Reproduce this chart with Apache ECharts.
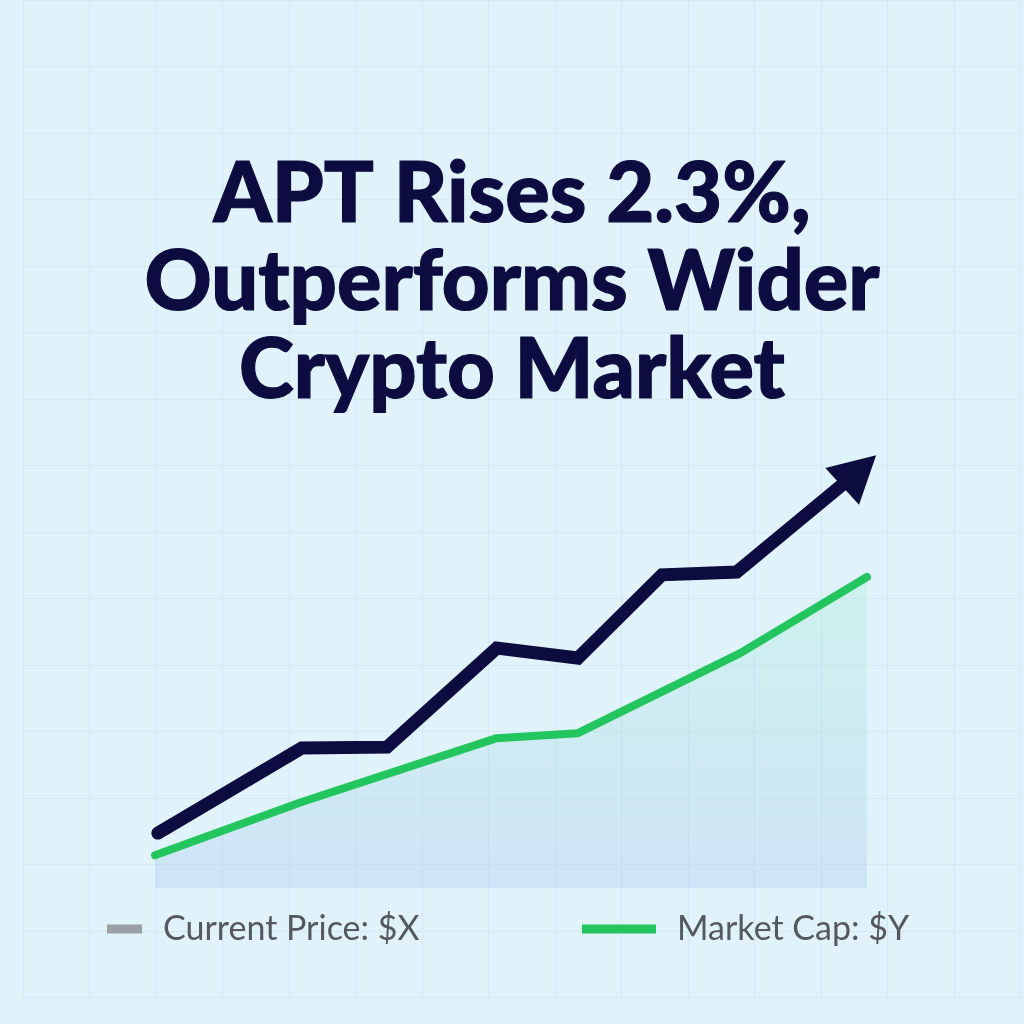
<!DOCTYPE html>
<html>
<head>
<meta charset="utf-8">
<script src="https://cdn.jsdelivr.net/npm/echarts@6/dist/echarts.min.js"></script>
<style>
  html, body { margin: 0; padding: 0; background: #e0f3fa; }
  #chart { width: 1024px; height: 1024px; }
</style>
</head>
<body>
<div id="chart"></div>
<script>
// (x: 0-100 along the plot, y: 0-100 up the plot)
const priceX = [0.4, 20.6, 32.6, 48.0, 59.4, 71.2, 81.7, 98.9];
const priceY = [12.2, 31.1, 31.3, 53.3, 51.1, 69.6, 70.2, 92.7];
const capX = [0, 20.6, 48.0, 59.4, 82.2, 100];
const capY = [7.3, 19.1, 33.3, 34.4, 52.2, 69.1];

const titleLines = ['APT Rises 2.3%,', 'Outperforms Wider', 'Crypto Market'];
const priceName = 'Current Price: $X';
const capName = 'Market Cap: $Y';

const navy = '#0c0c40';
const green = '#22c55e';

const chart = echarts.init(document.getElementById('chart'));

let priceData = priceX.map((x, i) => {
  if (i === priceX.length - 1) {
    return {value: [x, priceY[i]], symbol: 'triangle', symbolSize: [50, 46], symbolRotate: -47.6};
  }
  return {value: [x, priceY[i]], symbol: 'none'};
});
let capData = capX.map((x, i) => [x, capY[i]]);

let option = {
  backgroundColor: '#e0f3fa',
  animation: false,
  title: {
    text: titleLines.join('\n'),
    left: 'center',
    top: 146,
    textStyle: {
      fontFamily: 'Lato',
      fontWeight: 900,
      fontSize: 83,
      lineHeight: 88,
      color: navy,
      textBorderColor: navy,
      textBorderWidth: 1.2
    }
  },
  legend: [
    {
      left: 102,
      top: 907,
      itemWidth: 35,
      itemHeight: 9,
      data: [{name: priceName, icon: 'rect', itemStyle: {color: '#9ba0a7'}, lineStyle: {color: '#9ba0a7', width: 9, cap: 'butt'}}],
      textStyle: {fontFamily: 'Lato', fontSize: 34, color: '#55595f', padding: [0, 0, 0, 16]}
    },
    {
      left: 577,
      top: 907,
      itemWidth: 74,
      itemHeight: 9,
      data: [{name: capName, icon: 'rect', itemStyle: {color: green}, lineStyle: {color: green, width: 9, cap: 'butt'}}],
      textStyle: {fontFamily: 'Lato', fontSize: 34, color: '#55595f', padding: [0, 0, 0, 16]}
    }
  ],
  grid: [
    {left: 155, right: 157, top: 438, bottom: 136},
    {left: 23, top: 0, width: 997.5, height: 997.5}
  ],
  xAxis: [
    {type: 'value', min: 0, max: 100, show: false},
    {
      type: 'value', gridIndex: 1, min: 0, max: 15, interval: 1,
      axisLine: {show: false}, axisTick: {show: false}, axisLabel: {show: false},
      splitLine: {show: true, lineStyle: {color: '#d4e9f2', width: 1.2}}
    }
  ],
  yAxis: [
    {type: 'value', min: 0, max: 100, show: false},
    {
      type: 'value', gridIndex: 1, min: 0, max: 15, interval: 1,
      axisLine: {show: false}, axisTick: {show: false}, axisLabel: {show: false},
      splitLine: {show: true, lineStyle: {color: '#d4e9f2', width: 1.2}}
    }
  ],
  series: [
    {
      name: capName,
      type: 'line',
      data: capData,
      symbol: 'none',
      clip: false,
      z: 2,
      lineStyle: {color: green, width: 8, cap: 'round', join: 'round'},
      itemStyle: {color: green},
      areaStyle: {
        origin: 'start',
        color: new echarts.graphic.LinearGradient(0, 0, 0, 1, [
          {offset: 0, color: 'rgba(150, 235, 205, 0.35)'},
          {offset: 1, color: 'rgba(170, 195, 240, 0.45)'}
        ])
      }
    },
    {
      name: priceName,
      type: 'line',
      data: priceData,
      symbol: 'triangle',
      showSymbol: true,
      showAllSymbol: true,
      clip: false,
      z: 3,
      lineStyle: {color: navy, width: 13, cap: 'round', join: 'miter'},
      itemStyle: {color: navy, borderWidth: 0}
    }
  ]
};

chart.setOption(option);
</script>
</body>
</html>
